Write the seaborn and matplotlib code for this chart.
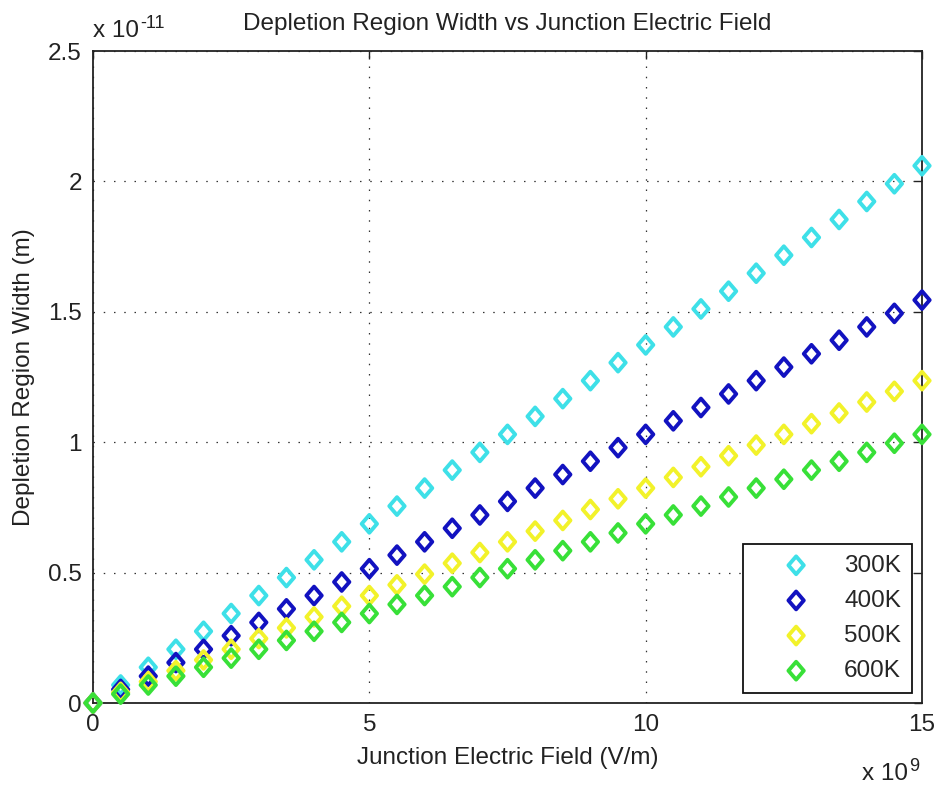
import numpy as np
import pandas as pd
import matplotlib
matplotlib.use("Agg")
import matplotlib.pyplot as plt
import seaborn as sns
from matplotlib.path import Path

# datos (x en 1e9 V/m, y en 1e-11 m)
field = [0, 0.5, 1, 1.5, 2, 2.5, 3, 3.5, 4, 4.5, 5, 5.5, 6, 6.5, 7, 7.5,
         8, 8.5, 9, 9.5, 10, 10.5, 11, 11.5, 12, 12.5, 13, 13.5, 14, 14.5, 15]
w_300 = [0, 0.069, 0.137, 0.206, 0.275, 0.343, 0.412, 0.481, 0.549, 0.618,
         0.687, 0.755, 0.824, 0.893, 0.961, 1.030, 1.099, 1.167, 1.236, 1.305,
         1.373, 1.442, 1.511, 1.579, 1.648, 1.717, 1.785, 1.854, 1.923, 1.991, 2.060]
w_400 = [0, 0.052, 0.103, 0.155, 0.206, 0.258, 0.309, 0.361, 0.412, 0.464,
         0.515, 0.567, 0.618, 0.670, 0.721, 0.773, 0.824, 0.876, 0.927, 0.979,
         1.030, 1.082, 1.133, 1.185, 1.236, 1.288, 1.339, 1.391, 1.442, 1.494, 1.545]
w_500 = [0, 0.041, 0.082, 0.124, 0.165, 0.206, 0.247, 0.288, 0.330, 0.371,
         0.412, 0.453, 0.494, 0.536, 0.577, 0.618, 0.659, 0.700, 0.742, 0.783,
         0.824, 0.865, 0.906, 0.948, 0.989, 1.030, 1.071, 1.112, 1.154, 1.195, 1.236]
w_600 = [0, 0.034, 0.069, 0.103, 0.137, 0.172, 0.206, 0.240, 0.275, 0.309,
         0.343, 0.378, 0.412, 0.446, 0.481, 0.515, 0.549, 0.584, 0.618, 0.652,
         0.687, 0.721, 0.755, 0.790, 0.824, 0.858, 0.893, 0.927, 0.961, 0.996, 1.030]
labels = ["300K", "400K", "500K", "600K"]
colors = ["#3ee0e8", "#1212c0", "#f2f22a", "#38e038"]

sns.set_style("white")
plt.rcParams["font.family"] = ["Liberation Sans", "DejaVu Sans"]
fs = 17.5
txt_c = "#222222"

fig = plt.figure(figsize=(9.36, 7.86), dpi=100)
ax = fig.add_axes([93 / 936, 83 / 786, 829 / 936, 652 / 786])

diamond = Path([(0, 1), (0.86, 0), (0, -1), (-0.86, 0), (0, 1)],
               [Path.MOVETO, Path.LINETO, Path.LINETO, Path.LINETO, Path.CLOSEPOLY])

for ys, lab, c in zip([w_300, w_400, w_500, w_600], labels, colors):
    df = pd.DataFrame({"x": field, "y": ys})
    sns.scatterplot(data=df, x="x", y="y", ax=ax, marker=diamond, s=165,
                    facecolor="none", edgecolor=c, linewidth=2.8, label=lab,
                    clip_on=False, zorder=3)

ax.set_xlim(0, 15)
ax.set_ylim(0, 2.5)
ax.set_xticks([0, 5, 10, 15])
ax.set_xticklabels(["0", "5", "10", "15"])
ax.set_yticks([0, 0.5, 1, 1.5, 2, 2.5])
ax.set_yticklabels(["0", "0.5", "1", "1.5", "2", "2.5"])
ax.tick_params(direction="in", length=6, width=1, top=True, right=True,
               labelsize=fs, colors=txt_c, pad=8)
ax.grid(True, color="#333333", linestyle=(0, (1.2, 7.0)), linewidth=0.9)
for sp in ax.spines.values():
    sp.set_color(txt_c)
    sp.set_linewidth(1.3)

ax.set_title("Depletion Region Width vs Junction Electric Field",
             fontsize=fs, color=txt_c, pad=15)
ax.set_xlabel("Junction Electric Field (V/m)", fontsize=fs, color=txt_c)
ax.set_ylabel("Depletion Region Width (m)", fontsize=fs, color=txt_c)
ax.xaxis.set_label_coords(0.5, -0.068)
ax.yaxis.set_label_coords(-0.07, 0.5)

# factores de escala estilo MATLAB
t1 = ax.text(0.0, 1 + 14 / 652, "x 10", transform=ax.transAxes,
             ha="left", va="baseline", fontsize=fs, color=txt_c)
ax.annotate("-11", xy=(1.0, 0.45), xycoords=t1, xytext=(1, 0),
            textcoords="offset points", ha="left", va="bottom",
            fontsize=13, color=txt_c)
t2 = ax.text(1.0 - 14 / 829, -77 / 652, "x 10", transform=ax.transAxes,
             ha="right", va="baseline", fontsize=fs, color=txt_c)
ax.annotate("9", xy=(1.0, 0.45), xycoords=t2, xytext=(1, 0),
            textcoords="offset points", ha="left", va="bottom",
            fontsize=13, color=txt_c)

leg = ax.legend(loc="lower right", bbox_to_anchor=(0.988, 0.0153),
                fontsize=fs, frameon=True, fancybox=False, edgecolor="#111111",
                framealpha=1, borderpad=0.45, handlelength=3.5,
                handletextpad=0.23, labelspacing=0.54, borderaxespad=0)
leg.get_frame().set_linewidth(1.3)

fig.savefig("out.png", dpi=100, facecolor="white")
